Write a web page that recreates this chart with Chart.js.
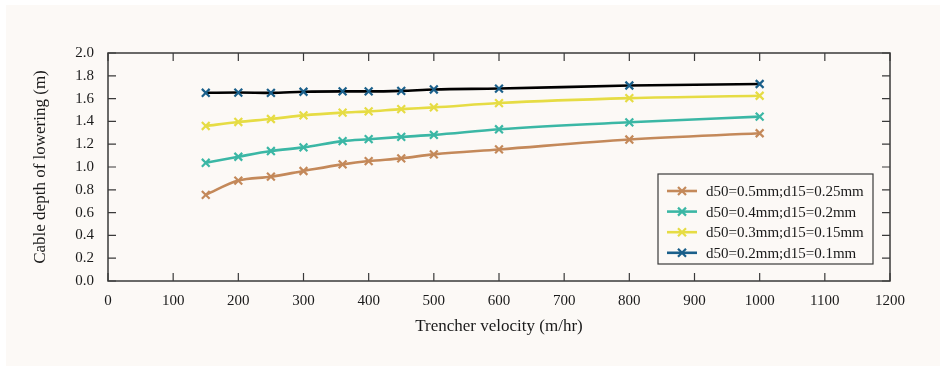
<!DOCTYPE html>
<html>
<head>
<meta charset="utf-8">
<script src="https://cdn.jsdelivr.net/npm/chart.js@4/dist/chart.umd.min.js"></script>
<style>
  html, body { margin: 0; padding: 0; background: #ffffff; }
  #bg { position: absolute; left: 6px; top: 5px; right: 0; bottom: 1px; background: #fcf9f6; }
  #wrap { position: absolute; left: 0; top: 0; width: 940px; height: 367px; }
</style>
</head>
<body>
<div id="bg"></div>
<div id="wrap"><canvas id="depth-chart" width="940" height="367"></canvas></div>
<script>
// Trencher velocity (m/hr) - x values shared by all series
const velocities = [150, 200, 250, 300, 360, 400, 450, 500, 600, 800, 1000];

// Cable depth of lowering (m) for each soil grading
const depthD50_05 = [0.756, 0.881, 0.915, 0.965, 1.023, 1.052, 1.076, 1.111, 1.154, 1.241, 1.296];
const depthD50_04 = [1.037, 1.090, 1.140, 1.172, 1.227, 1.244, 1.264, 1.282, 1.331, 1.392, 1.442];
const depthD50_03 = [1.360, 1.395, 1.421, 1.453, 1.477, 1.488, 1.508, 1.523, 1.561, 1.604, 1.625];
const depthD50_02 = [1.651, 1.653, 1.650, 1.660, 1.663, 1.663, 1.668, 1.680, 1.688, 1.715, 1.728];

const seriesLabels = [
  "d50=0.5mm;d15=0.25mm",
  "d50=0.4mm;d15=0.2mm",
  "d50=0.3mm;d15=0.15mm",
  "d50=0.2mm;d15=0.1mm"
];

// Axis ranges / steps
const xMin = 0, xMax = 1200, xStep = 100;
const yMin = 0, yMax = 2.0, yStep = 0.2;

const toPoints = (ys) => velocities.map((v, i) => ({ x: v, y: ys[i] }));

const serif = "'Liberation Serif', 'Times New Roman', serif";
const frameColor = "#3a3a3a";

// line colour, marker colour
const styles = [
  { line: "#c4895a", mark: "#c4895a" },
  { line: "#3bb7a5", mark: "#3bb7a5" },
  { line: "#e6dc44", mark: "#e6dc44" },
  { line: "#000000", mark: "#1a5f8a" }
];

const datasets = [depthD50_05, depthD50_04, depthD50_03, depthD50_02].map((ys, i) => ({
  label: seriesLabels[i],
  data: toPoints(ys),
  borderColor: styles[i].line,
  borderWidth: 2.6,
  cubicInterpolationMode: "monotone",
  pointStyle: "crossRot",
  pointRadius: 5.5,
  pointBorderWidth: 2.2,
  pointBorderColor: styles[i].mark,
  pointBackgroundColor: styles[i].mark,
  fill: false
}));

// Box around plot + inward ticks on all four sides
const framePlugin = {
  id: "frame",
  afterDraw(chart) {
    const { ctx, chartArea: a, scales } = chart;
    ctx.save();
    ctx.strokeStyle = frameColor;
    ctx.lineWidth = 1.5;
    ctx.strokeRect(a.left, a.top, a.right - a.left, a.bottom - a.top);
    ctx.lineWidth = 1.2;
    const len = 8;
    ctx.beginPath();
    scales.x.ticks.forEach(t => {
      const px = scales.x.getPixelForValue(t.value);
      ctx.moveTo(px, a.bottom); ctx.lineTo(px, a.bottom - len);
      ctx.moveTo(px, a.top); ctx.lineTo(px, a.top + len);
    });
    scales.y.ticks.forEach(t => {
      const py = scales.y.getPixelForValue(t.value);
      ctx.moveTo(a.left, py); ctx.lineTo(a.left + len, py);
      ctx.moveTo(a.right, py); ctx.lineTo(a.right - len, py);
    });
    ctx.stroke();
    ctx.restore();
  }
};

// Boxed legend in the lower right of the plot area
const legendBoxPlugin = {
  id: "legendBox",
  afterDraw(chart) {
    const ctx = chart.ctx;
    const box = { x: 658, y: 174, w: 215, h: 90 };
    ctx.save();
    ctx.fillStyle = "#fcf9f6";
    ctx.fillRect(box.x, box.y, box.w, box.h);
    ctx.strokeStyle = frameColor;
    ctx.lineWidth = 1.2;
    ctx.strokeRect(box.x, box.y, box.w, box.h);
    ctx.font = "15px " + serif;
    ctx.textBaseline = "middle";
    chart.data.datasets.forEach((ds, i) => {
      const cy = 191 + i * 20.6;
      const col = styles[i].mark;
      ctx.strokeStyle = col;
      ctx.lineWidth = 2.6;
      ctx.beginPath();
      ctx.moveTo(667, cy); ctx.lineTo(697, cy);
      ctx.stroke();
      ctx.lineWidth = 2.2;
      ctx.beginPath();
      ctx.moveTo(678, cy - 4); ctx.lineTo(686, cy + 4);
      ctx.moveTo(686, cy - 4); ctx.lineTo(678, cy + 4);
      ctx.stroke();
      ctx.fillStyle = "#1a1a1a";
      ctx.fillText(ds.label, 706, cy + 1);
    });
    ctx.restore();
  }
};

new Chart("depth-chart", {
  type: "line",
  data: { datasets: datasets },
  options: {
    responsive: false,
    animation: false,
    layout: { padding: { left: 0, top: 53, right: 50, bottom: 0 } },
    plugins: {
      legend: { display: false },
      tooltip: { enabled: false }
    },
    scales: {
      x: {
        type: "linear",
        min: xMin, max: xMax,
        afterFit: s => { s.height = 86; },
        grid: { display: false, drawTicks: false },
        border: { display: false },
        ticks: {
          stepSize: xStep,
          padding: 11,
          maxRotation: 0,
          color: "#1a1a1a",
          font: { family: serif, size: 15 },
          callback: v => String(v)
        },
        title: {
          display: true,
          text: "Trencher velocity (m/hr)",
          color: "#1a1a1a",
          font: { family: serif, size: 17 },
          padding: { top: 0, bottom: 30 }
        }
      },
      y: {
        min: yMin, max: yMax,
        afterFit: s => { s.width = 108; },
        grid: { display: false, drawTicks: false },
        border: { display: false },
        ticks: {
          stepSize: yStep,
          padding: 14,
          color: "#1a1a1a",
          font: { family: serif, size: 15 },
          callback: v => Number(v).toFixed(1)
        },
        title: {
          display: true,
          text: "Cable depth of lowering (m)",
          color: "#1a1a1a",
          font: { family: serif, size: 17 },
          padding: { top: 30, bottom: 0 }
        }
      }
    }
  },
  plugins: [framePlugin, legendBoxPlugin]
});
</script>
</body>
</html>
